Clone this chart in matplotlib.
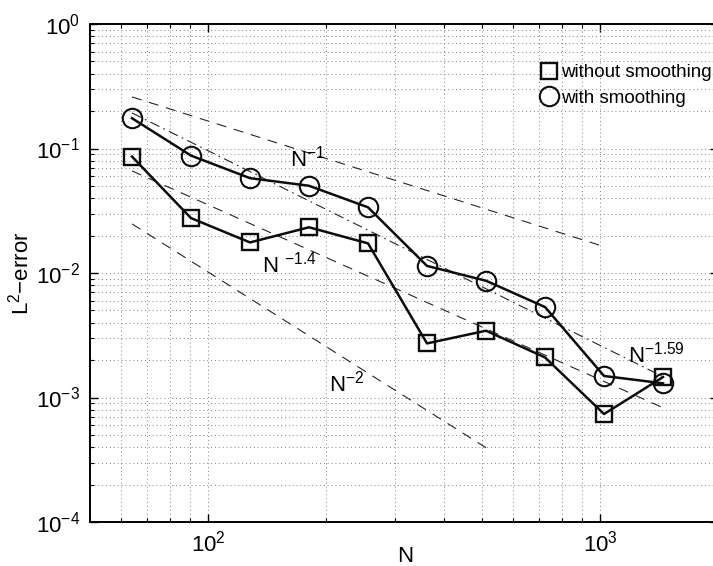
import matplotlib
matplotlib.use("Agg")
import matplotlib.pyplot as plt
from matplotlib.lines import Line2D

plt.rcParams['font.family'] = ['Liberation Sans', 'DejaVu Sans']
plt.rcParams['mathtext.fontset'] = 'custom'
plt.rcParams['mathtext.rm'] = 'Liberation Sans'
plt.rcParams['mathtext.it'] = 'Liberation Sans'

# data
n = [64, 90.5, 128, 181, 256, 362, 512, 724, 1024, 1448]
err_without = [0.0861, 0.0276, 0.0176, 0.0233, 0.0173, 0.00272, 0.00344, 0.0021, 0.000737, 0.00146]
err_with = [0.175, 0.0877, 0.0578, 0.0502, 0.0337, 0.0114, 0.00867, 0.00533, 0.00149, 0.0013]

# reference slopes (end points)
ref_x = [[64, 1024], [64, 1448], [64, 1448], [64, 512]]
ref_y = [[0.2596, 0.0163], [0.193, 0.00147], [0.0661, 0.000828], [0.0248, 0.000395]]
ref_style = ['--', '-.', '--', '--']
ref_labels = [r'N$^{-1}$', r'N$^{-1.59}$', r'N $^{-1.4}$', r'N$^{-2}$']
ref_label_pos = [(162, 0.0711), (1178, 0.0019), (137, 0.01004), (204, 0.00111)]

fig = plt.figure(figsize=(7.13, 5.66), dpi=100)
ax = fig.add_axes([0.1262, 0.0777, 0.8808, 0.8799])
ax.set_xscale('log')
ax.set_yscale('log')

for xs, ys, st in zip(ref_x, ref_y, ref_style):
    if st == '--':
        ax.plot(xs, ys, color='0.15', lw=0.8, dashes=(9, 7))
    else:
        ax.plot(xs, ys, color='0.15', lw=0.8, dashes=(9, 4, 1.5, 4))

for lab, (tx, ty) in zip(ref_labels, ref_label_pos):
    ax.text(tx, ty, lab, fontsize=16, va='baseline', ha='left')

ax.plot(n, err_without, '-s', color='0.05', lw=1.8, ms=11, mfc='none', mew=1.7)
ax.plot(n, err_with, '-o', color='0.05', lw=1.8, ms=14, mfc='none', mew=1.5)

ax.set_xlim(50, 2000)
ax.set_ylim(1e-4, 1)
ax.grid(which='both', ls=(0, (1, 3)), color='0.5', lw=0.7)
ax.tick_params(which='both', direction='in', top=True, right=True, labelsize=16)
ax.tick_params(which='major', length=6, width=1)
ax.tick_params(which='minor', length=3, width=0.8)
ax.tick_params(axis='y', pad=7)
ax.tick_params(axis='x', pad=6)
for s in ax.spines.values():
    s.set_linewidth(1.4)

ax.set_xlabel('N', fontsize=16)
ax.xaxis.set_label_coords(0.502, -0.048)
ax.set_ylabel(r'L$^2$$-$error', fontsize=16, labelpad=2)

handles = [Line2D([], [], ls='none', marker='s', ms=11, mfc='none', mec='0.05', mew=1.7),
           Line2D([], [], ls='none', marker='o', ms=14, mfc='none', mec='0.05', mew=1.5)]
ax.legend(handles, ['without smoothing', 'with smoothing'], loc='upper left',
          bbox_to_anchor=(0.748, 0.903), bbox_transform=fig.transFigure,
          frameon=False, fontsize=13.5, handlelength=0.7, handletextpad=0.3,
          labelspacing=0.45, borderpad=0)

fig.savefig('out.png', dpi=100)
